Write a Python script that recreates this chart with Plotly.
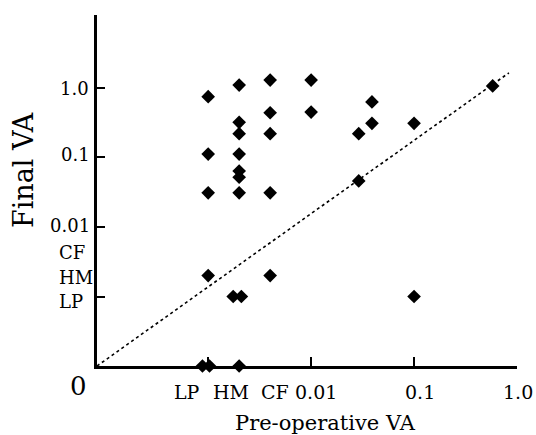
import numpy as np
import plotly.graph_objects as go

# Decimal equivalents used for non-numeric acuities
ZERO, LP, HM, CF = 1e-4, 0.001, 0.002, 0.004

# Pre-operative VA (x) and Final VA (y) for each eye
pre_op_va = [
    LP, LP, LP, LP, 0.00088, 0.00103,
    HM, HM, HM, HM, HM, HM, HM, HM, 0.00175, 0.0021,
    CF, CF, CF, CF, CF,
    0.01, 0.01,
    0.029, 0.029,
    0.039, 0.039,
    0.1, 0.1,
    0.58,
]
final_va = [
    0.75, 0.112, 0.031, HM, ZERO, ZERO,
    1.1, 0.32, 0.22, 0.112, 0.064, 0.052, 0.031, ZERO, LP, LP,
    1.3, 0.44, 0.22, 0.031, HM,
    1.3, 0.45,
    0.22, 0.046,
    0.63, 0.31,
    0.31, LP,
    1.07,
]

# Reference (dotted) line endpoints
diag_pre = [10 ** -4.08, 0.835]
diag_final = [ZERO, 1.65]

x_tick_labels = ["LP", "HM", "CF", "0.01", "0.1", "1.0"]
y_num_labels = ["1.0", "0.1", "0.01"]
y_cat_labels = ["CF", "HM", "LP"]

FONT = "DejaVu Serif"

# plot box in pixels: left 97, right 517, top 15, bottom 366
L, R, T, B = 97, 517, 15, 366
def px_x(px):
    return (px - L) / (R - L)
def px_y(py):
    return (B - py) / (B - T)

fig = go.Figure()
fig.add_trace(go.Scatter(
    x=diag_pre, y=diag_final, mode="lines",
    line=dict(color="black", width=1.6, dash="dot"),
    hoverinfo="skip", showlegend=False,
))
fig.add_trace(go.Scatter(
    x=pre_op_va, y=final_va, mode="markers",
    marker=dict(symbol="diamond", size=10.5, color="black"),
    showlegend=False, cliponaxis=False,
))

ann = []
# x tick labels
x_label_px = [187, 231, 275, 316, 420, 518]
for t, px in zip(x_tick_labels, x_label_px):
    ann.append(dict(text=t, x=px_x(px), y=px_y(392), xref="paper", yref="paper",
                    xanchor="center", yanchor="middle", showarrow=False,
                    font=dict(family=FONT, size=19, color="black")))
# y numeric labels (right aligned)
for t, (rx, py) in zip(y_num_labels, [(91, 88), (92, 155), (92, 226)]):
    ann.append(dict(text=t, x=px_x(rx), y=px_y(py), xref="paper", yref="paper",
                    xanchor="right", yanchor="middle", showarrow=False,
                    font=dict(family=FONT, size=18, color="black")))
# y category labels (left aligned)
for t, py in zip(y_cat_labels, [252, 277, 301]):
    ann.append(dict(text=t, x=px_x(57), y=px_y(py), xref="paper", yref="paper",
                    xanchor="left", yanchor="middle", showarrow=False,
                    font=dict(family=FONT, size=18, color="black")))
# zero label
ann.append(dict(text="0", x=px_x(78), y=px_y(386), xref="paper", yref="paper",
                xanchor="center", yanchor="middle", showarrow=False,
                font=dict(family=FONT, size=26, color="black")))
# axis titles
ann.append(dict(text="Final VA", x=px_x(23), y=px_y(170), xref="paper", yref="paper",
                xanchor="center", yanchor="middle", showarrow=False, textangle=-90,
                font=dict(family=FONT, size=27, color="black")))
ann.append(dict(text="Pre-operative VA", x=px_x(325), y=px_y(423), xref="paper", yref="paper",
                xanchor="center", yanchor="middle", showarrow=False,
                font=dict(family=FONT, size=21, color="black")))

fig.update_layout(
    width=536, height=435,
    margin=dict(l=L, r=536 - R, t=T, b=435 - B),
    paper_bgcolor="white", plot_bgcolor="white",
    annotations=ann,
    xaxis=dict(type="log", range=[-4.08, 0], showgrid=False, zeroline=False,
               showline=True, linecolor="black", linewidth=2.5,
               ticks="inside", ticklen=9, tickwidth=2, tickcolor="black",
               tickvals=[LP, 0.01, 0.1], ticktext=["", "", ""], showticklabels=False),
    yaxis=dict(type="log", range=[-4.0, 1.05], showgrid=False, zeroline=False,
               showline=True, linecolor="black", linewidth=2.8,
               ticks="inside", ticklen=8, tickwidth=2, tickcolor="black",
               tickvals=[LP, 0.01, 0.1, 1.0], ticktext=["", "", "", ""], showticklabels=False),
)

fig.write_html("out.html", config={"displayModeBar": False},
               post_script="document.body.style.margin='0';document.body.style.padding='0';")
